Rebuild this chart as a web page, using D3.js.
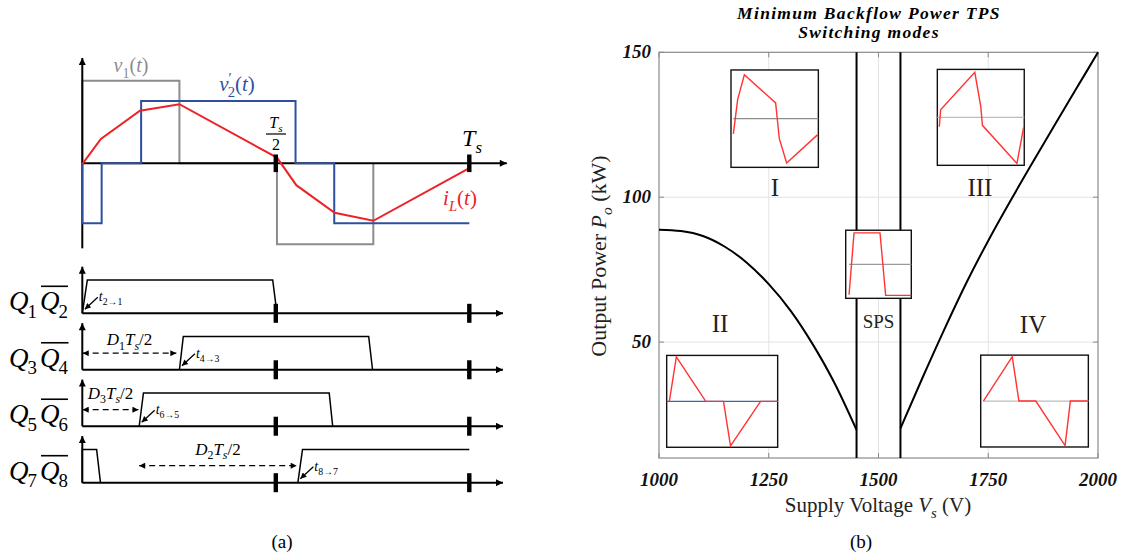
<!DOCTYPE html>
<html><head><meta charset="utf-8">
<script src="https://cdn.jsdelivr.net/npm/d3@7"></script>
<style>body{margin:0;background:#fff}svg{display:block}text{font-family:"Liberation Serif","Times New Roman",serif}</style>
</head><body><svg id="c" width="1128" height="558"></svg>
<script>
// ================= DATA =================
// Panel (a): waveforms, time in fractions of Ts, amplitude in per-unit of v1
const v1T = [0, 0, 0.251, 0.251, 0.503, 0.503, 0.752, 0.752];
const v1V = [0, 1.02, 1.02, 0, 0, -1, -1, 0];
const v2T = [0, 0, 0.05, 0.05, 0.152, 0.152, 0.551, 0.551, 0.651, 0.651, 1.0];
const v2V = [0, -0.74, -0.74, 0, 0, 0.77, 0.77, 0, 0, -0.74, -0.74];
const iLT = [0, 0.048, 0.149, 0.251, 0.503, 0.553, 0.652, 0.752, 1.0];
const iLV = [-0.01, 0.30, 0.65, 0.73, 0.07, -0.27, -0.61, -0.71, -0.06];
const periodTicks = [0.5, 1.0];
// gate signals (null separates segments)
const gateRows = ["Q12", "Q34", "Q56", "Q78"];
const q12T = [0, 0.013, 0.492, 0.503];           const q12V = [0, 1, 1, 0];
const q34T = [0.251, 0.261, 0.740, 0.750];       const q34V = [0, 1, 1, 0];
const q56T = [0.147, 0.158, 0.638, 0.647];       const q56V = [0, 1, 1, 0];
const q78T = [0, 0, 0.037, 0.047, null, 0.557, 0.569, 1.0];
const q78V = [0, 1, 1, 0, null, 0, 1, 1];
// dashed phase-shift spans [start,end] per row
const d1Span = [0.001, 0.243];
const d3Span = [0.001, 0.145];
const d2Span = [0.147, 0.554];

// Panel (b): min backflow power TPS switching modes
const xTicks = [1000, 1250, 1500, 1750, 2000];
const yTicks = [50, 100, 150];
const boundIIV = [1000, 1050, 1100, 1150, 1200, 1250, 1300, 1350, 1400, 1450];
const boundIIP = [88.8, 88.3, 86.6, 82.9, 77.4, 70.0, 60.8, 49.3, 35.8, 19.7];
const boundIIIV = [1550, 1600, 1650, 1700, 1750, 1800, 1850, 1900, 1950, 2000];
const boundIIIP = [20.2, 37.6, 54.4, 70.4, 85.0, 98.6, 111.7, 124.6, 137.3, 150];
const spsLimits = [1450, 1550];
// inset waveforms (x: fraction of inset width, y: per-unit current)
const insI_x   = [0.027, 0.076, 0.153, 0.511, 0.553, 0.637, 0.989];
const insI_y   = [-0.32, 0.40, 0.92, 0.33, -0.42, -0.93, -0.34];
const insIII_x = [0.023, 0.038, 0.431, 0.500, 0.519, 0.916, 0.992];
const insIII_y = [-0.20, 0.16, 0.96, 0.23, -0.17, -0.98, -0.22];
const insSPS_x = [0.051, 0.127, 0.523, 0.609, 1.0];
const insSPS_y = [-0.92, 0.95, 0.95, -0.94, -0.94];
const insII_x  = [0.024, 0.087, 0.352, 0.512, 0.575, 0.846, 1.0];
const insII_y  = [0, 0.99, 0, 0, -0.99, 0, 0];
const insIV_x  = [0.025, 0.293, 0.355, 0.512, 0.784, 0.833, 1.0];
const insIV_y  = [0, 0.99, 0, 0, -0.99, 0, 0];
const modeLabels = ["I", "II", "III", "IV", "SPS"];

// ================= LAYOUT =================
const svg = d3.select("#c");
const defs = svg.append("defs");
function marker(id, w, h) {
  defs.append("marker").attr("id", id).attr("viewBox", "0 0 10 10")
    .attr("refX", 10).attr("refY", 5).attr("markerUnits", "userSpaceOnUse")
    .attr("markerWidth", w).attr("markerHeight", h).attr("orient", "auto-start-reverse")
    .append("path").attr("d", "M0,0 L10,5 L0,10 Z").attr("fill", "#000");
}
marker("axArrow", 9, 7); marker("dArrow", 8, 6); marker("sArrow", 7, 6);

function mtext(g, x, y, parts, o) {
  const t = g.append("text").attr("x", x).attr("y", y).attr("font-size", o.size)
    .attr("fill", o.color || "#000").attr("text-anchor", o.anchor || "start");
  if (o.weight) t.attr("font-weight", o.weight);
  let shift = 0;
  parts.forEach(p => {
    const [s, k, dx] = p;
    const target = k.includes("sub") ? o.size * 0.28 : k.includes("sup") ? -o.size * 0.38 : 0;
    const ts = t.append("tspan").text(s).attr("dy", target - shift);
    if (dx) ts.attr("dx", dx);
    shift = target;
    if (k.includes("i")) ts.attr("font-style", "italic");
    if (k.includes("sub") || k.includes("sup")) ts.attr("font-size", o.size * 0.7);
  });
  return t;
}
const zip = (xs, ys) => xs.map((x, i) => [x, ys[i]]);

// ---------- Panel (a) top waveforms ----------
const ax = d3.scaleLinear().domain([0, 1]).range([82.3, 469.3]);
const ay = d3.scaleLinear().domain([-1, 1]).range([244.3, 82.3]);
const ga = svg.append("g");
const lineA = d3.line().x(d => ax(d[0])).y(d => ay(d[1]));
ga.append("path").attr("d", lineA(zip(v1T, v1V))).attr("fill", "none").attr("stroke", "#8c8c8c").attr("stroke-width", 2);
ga.append("line").attr("x1", ax(0)).attr("x2", ax(0)).attr("y1", ay(-1.05)).attr("y2", ay(1.30))
  .attr("stroke", "#000").attr("stroke-width", 2).attr("marker-end", "url(#axArrow)");
ga.append("line").attr("x1", ax(0)).attr("x2", ax(1.097)).attr("y1", ay(0)).attr("y2", ay(0))
  .attr("stroke", "#000").attr("stroke-width", 2).attr("marker-end", "url(#axArrow)");
ga.append("path").attr("d", lineA(zip(v2T, v2V))).attr("fill", "none").attr("stroke", "#2f4f9e").attr("stroke-width", 2);
ga.append("path").attr("d", lineA(zip(iLT, iLV))).attr("fill", "none").attr("stroke", "#ec2227").attr("stroke-width", 2);
periodTicks.forEach(t => ga.append("rect").attr("x", ax(t) - 2.2).attr("width", 4.4)
  .attr("y", ay(0) - 8.8).attr("height", 17.6).attr("fill", "#000"));
mtext(ga, 131, 72, [["v", "i"], ["1", "rsub"], ["(", "r"], ["t", "i"], [")", "r"]], {size: 20, color: "#8c8c8c", anchor: "middle"});
mtext(ga, 237, 91, [["v", "i"], ["′", "rsup"], ["2", "rsub", -4], ["(", "r"], ["t", "i"], [")", "r"]], {size: 21, color: "#2f4f9e", anchor: "middle"});
mtext(ga, 460, 205, [["i", "i"], ["L", "isub"], ["(", "r"], ["t", "i"], [")", "r"]], {size: 21, color: "#ec2227", anchor: "middle"});
mtext(ga, 276, 128, [["T", "i"], ["s", "isub"]], {size: 16, anchor: "middle"});
ga.append("line").attr("x1", 266).attr("x2", 286).attr("y1", 134).attr("y2", 134).attr("stroke", "#000").attr("stroke-width", 1.2);
ga.append("text").attr("x", 276).attr("y", 150).attr("font-size", 16).attr("text-anchor", "middle").text("2");
mtext(ga, 472, 146, [["T", "i"], ["s", "isub"]], {size: 24, anchor: "middle"});

// ---------- Panel (a) gate signals ----------
const rowY = d3.scalePoint().domain(gateRows).range([313.3, 482.7]);
const gy = d3.scaleLinear().domain([0, 1]).range([0, -33.3]);
const gg = svg.append("g");
const rowData = {Q12: [q12T, q12V], Q34: [q34T, q34V], Q56: [q56T, q56V], Q78: [q78T, q78V]};
gateRows.forEach(r => {
  const y0 = rowY(r);
  gg.append("line").attr("x1", ax(0)).attr("x2", ax(1.087)).attr("y1", y0).attr("y2", y0)
    .attr("stroke", "#000").attr("stroke-width", 2).attr("marker-end", "url(#axArrow)");
  gg.append("line").attr("x1", ax(0)).attr("x2", ax(0)).attr("y1", y0).attr("y2", y0 + gy(1.4))
    .attr("stroke", "#000").attr("stroke-width", 2).attr("marker-end", "url(#axArrow)");
  const [ts, vs] = rowData[r];
  const ln = d3.line().defined(d => d[0] !== null).x(d => ax(d[0])).y(d => y0 + gy(d[1]));
  gg.append("path").attr("d", ln(zip(ts, vs))).attr("fill", "none").attr("stroke", "#000").attr("stroke-width", 1.5);
  periodTicks.forEach(t => gg.append("rect").attr("x", ax(t) - 2.2).attr("width", 4.4)
    .attr("y", y0 - 9.5).attr("height", 19).attr("fill", "#000"));
});
function qLabel(r, a, b) {
  const y = rowY(r) - 3;
  mtext(gg, 9, y, [["Q", "i"], [a, "rsub", -1]], {size: 27});
  const t2 = mtext(gg, 40, y, [["Q", "i"], [b, "rsub", -1]], {size: 27});
  const bb = t2.node().getBBox();
  gg.append("line").attr("x1", bb.x + 1).attr("x2", bb.x + bb.width).attr("y1", y - 24).attr("y2", y - 24)
    .attr("stroke", "#000").attr("stroke-width", 1.6);
}
qLabel("Q12", "1", "2"); qLabel("Q34", "3", "4"); qLabel("Q56", "5", "6"); qLabel("Q78", "7", "8");
function dspan(r, span, dy, lbl, ldy) {
  const y = rowY(r) + dy;
  gg.append("line").attr("x1", ax(span[0])).attr("x2", ax(span[1])).attr("y1", y).attr("y2", y)
    .attr("stroke", "#000").attr("stroke-width", 1.3).attr("stroke-dasharray", "6,4")
    .attr("marker-start", "url(#dArrow)").attr("marker-end", "url(#dArrow)");
  mtext(gg, (ax(span[0]) + ax(span[1])) / 2, y + ldy, lbl, {size: 17, anchor: "middle"});
}
dspan("Q34", d1Span, -16.6, [["D", "i"], ["1", "rsub"], ["T", "i"], ["s", "isub"], ["/2", "r"]], -8);
dspan("Q56", d3Span, -16.6, [["D", "i"], ["3", "rsub"], ["T", "i"], ["s", "isub"], ["/2", "r"]], -11);
dspan("Q78", d2Span, -17, [["D", "i"], ["2", "rsub"], ["T", "i"], ["s", "isub"], ["/2", "r"]], -11);
function tAnn(r, t, lbl) {
  const y0 = rowY(r);
  const xe = ax(t) + 2.5, ye = y0 - 4;
  gg.append("line").attr("x1", xe + 13).attr("y1", ye - 12).attr("x2", xe).attr("y2", ye)
    .attr("stroke", "#000").attr("stroke-width", 1.3).attr("marker-end", "url(#sArrow)");
  mtext(gg, xe + 14, ye - 8, [["t", "i"], [lbl, "rsub"]], {size: 14});
}
tAnn("Q12", q12T[0], "2→1"); tAnn("Q34", q34T[0], "4→3"); tAnn("Q56", q56T[0], "6→5"); tAnn("Q78", q78T[5], "8→7");
svg.append("text").attr("x", 282).attr("y", 548).attr("font-size", 19).attr("text-anchor", "middle").text("(a)");

// ---------- Panel (b) ----------
const rx = d3.scaleLinear().domain([1000, 2000]).range([659, 1098]);
const ry = d3.scaleLinear().domain([10, 150]).range([458, 52.3]);
const gb = svg.append("g");
gb.append("rect").attr("x", rx(1000)).attr("y", ry(150)).attr("width", rx(2000) - rx(1000)).attr("height", ry(10) - ry(150)).attr("fill", "#fff");
xTicks.slice(1, -1).forEach(v => gb.append("line").attr("x1", rx(v)).attr("x2", rx(v)).attr("y1", ry(10)).attr("y2", ry(150)).attr("stroke", "#e3e3e3").attr("stroke-width", 1));
yTicks.slice(0, -1).forEach(v => gb.append("line").attr("y1", ry(v)).attr("y2", ry(v)).attr("x1", rx(1000)).attr("x2", rx(2000)).attr("stroke", "#e3e3e3").attr("stroke-width", 1));
xTicks.forEach(v => {
  gb.append("line").attr("x1", rx(v)).attr("x2", rx(v)).attr("y1", ry(10)).attr("y2", ry(10) - 5).attr("stroke", "#888");
  gb.append("line").attr("x1", rx(v)).attr("x2", rx(v)).attr("y1", ry(150)).attr("y2", ry(150) + 5).attr("stroke", "#888");
  gb.append("text").attr("x", rx(v)).attr("y", 486).attr("text-anchor", "middle").attr("font-size", 19)
    .attr("font-weight", "bold").attr("font-style", "italic").attr("fill", "#111").text(v);
});
yTicks.forEach(v => {
  gb.append("line").attr("y1", ry(v)).attr("y2", ry(v)).attr("x1", rx(1000)).attr("x2", rx(1000) + 5).attr("stroke", "#888");
  gb.append("line").attr("y1", ry(v)).attr("y2", ry(v)).attr("x1", rx(2000)).attr("x2", rx(2000) - 5).attr("stroke", "#888");
  gb.append("text").attr("x", 651).attr("y", ry(v) + 6).attr("text-anchor", "end").attr("font-size", 19)
    .attr("font-weight", "bold").attr("font-style", "italic").attr("fill", "#111").text(v);
});
gb.append("rect").attr("x", rx(1000)).attr("y", ry(150)).attr("width", rx(2000) - rx(1000)).attr("height", ry(10) - ry(150))
  .attr("fill", "none").attr("stroke", "#8a8a8a").attr("stroke-width", 1.2);
const lineB = d3.line().x(d => rx(d[0])).y(d => ry(d[1])).curve(d3.curveMonotoneX);
gb.append("path").attr("d", lineB(zip(boundIIV, boundIIP))).attr("fill", "none").attr("stroke", "#000").attr("stroke-width", 2);
gb.append("path").attr("d", lineB(zip(boundIIIV, boundIIIP))).attr("fill", "none").attr("stroke", "#000").attr("stroke-width", 2);
spsLimits.forEach(v => gb.append("line").attr("x1", rx(v)).attr("x2", rx(v)).attr("y1", ry(10)).attr("y2", ry(150)).attr("stroke", "#000").attr("stroke-width", 2));

const insets = [
  {box: [1164, 1363, 110.3, 143.9], x: insI_x, y: insI_y, mid: "#8c8c8c", midStart: 0.027},
  {box: [1634, 1832, 111.0, 144.1], x: insIII_x, y: insIII_y, mid: "#bdbdbd", midStart: 0.0},
  {box: [1425.3, 1574.7, 65.1, 88.6], x: insSPS_x, y: insSPS_y, mid: "#9a9a9a", midStart: 0.05},
  {box: [1017.5, 1270.3, 13.7, 45.4], x: insII_x, y: insII_y, mid: "#3d66b0", midStart: 0.0},
  {box: [1732.8, 1978, 13.8, 45.5], x: insIV_x, y: insIV_y, mid: "#bdbdbd", midStart: 0.025}
];
insets.forEach(ins => {
  const [V0, V1, P0, P1] = ins.box;
  const x0 = rx(V0), x1 = rx(V1), yb = ry(P0), yt = ry(P1);
  const sx = d3.scaleLinear().domain([0, 1]).range([x0, x1]);
  const sy = d3.scaleLinear().domain([-1, 1]).range([yb - 1, yt + 1]);
  gb.append("rect").attr("x", x0).attr("y", yt).attr("width", x1 - x0).attr("height", yb - yt)
    .attr("fill", "#fff").attr("stroke", "#111").attr("stroke-width", 1.4);
  gb.append("line").attr("x1", sx(ins.midStart)).attr("x2", sx(1)).attr("y1", sy(0)).attr("y2", sy(0))
    .attr("stroke", ins.mid).attr("stroke-width", 1.3);
  gb.append("path").attr("d", d3.line().x(d => sx(d[0])).y(d => sy(d[1]))(zip(ins.x, ins.y)))
    .attr("fill", "none").attr("stroke", "#ff3333").attr("stroke-width", 1.4);
});
const labelPos = {I: [1264, 100.5, 25], II: [1139, 53.6, 25], III: [1731, 100.5, 25], IV: [1852, 53.2, 25], SPS: [1500, 55.0, 19]};
modeLabels.forEach(m => {
  const [v, p, s] = labelPos[m];
  gb.append("text").attr("x", rx(v)).attr("y", ry(p)).attr("text-anchor", "middle").attr("font-size", s)
    .attr("fill", "#222").text(m);
});
gb.append("text").attr("x", 869).attr("y", 19).attr("text-anchor", "middle").attr("font-size", 17.5)
  .attr("letter-spacing", 1.3).attr("font-weight", "bold").attr("font-style", "italic").text("Minimum Backflow Power TPS");
gb.append("text").attr("x", 869).attr("y", 38).attr("text-anchor", "middle").attr("font-size", 17.5)
  .attr("letter-spacing", 1.3).attr("font-weight", "bold").attr("font-style", "italic").text("Switching modes");
mtext(gb, 878, 512, [["Supply Voltage ", "r"], ["V", "i"], ["s", "isub"], [" (V)", "r"]], {size: 21, color: "#222", anchor: "middle"});
const yl = mtext(gb, 0, 0, [["Output Power ", "r"], ["P", "i"], ["o", "isub"], [" (kW)", "r"]], {size: 22, color: "#222", anchor: "middle"});
yl.attr("transform", "translate(606,256) rotate(-90)");
svg.append("text").attr("x", 861).attr("y", 548).attr("font-size", 19).attr("text-anchor", "middle").text("(b)");
</script></body></html>
